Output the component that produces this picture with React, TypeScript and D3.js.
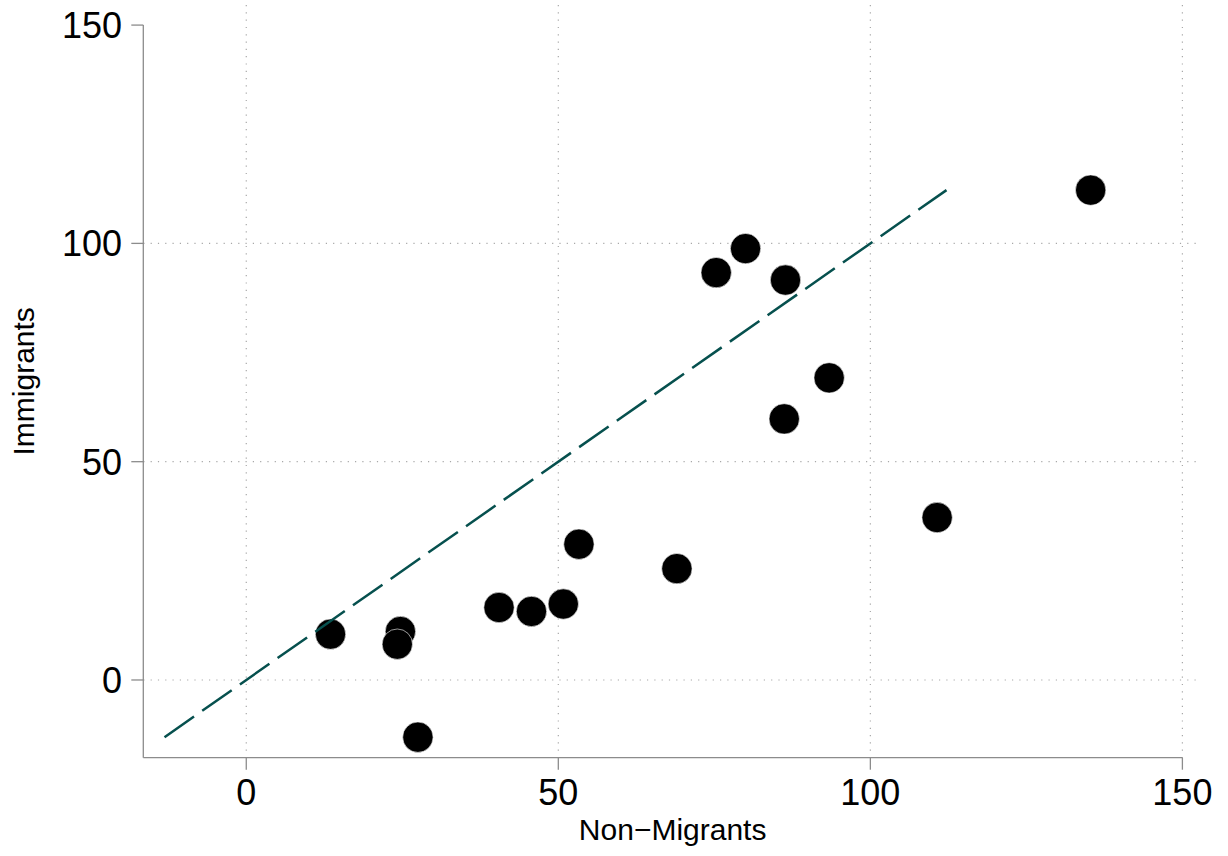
import React from "react";
import * as d3 from "d3";

const nonMigrants = [13.5, 24.7, 24.2, 27.5, 40.5, 45.7, 50.8, 53.3, 69.0, 75.3, 80.0, 86.4, 93.4, 86.2, 110.7, 135.3];
const immigrants = [10.5, 11.1, 8.2, -13.1, 16.6, 15.7, 17.4, 31.1, 25.5, 93.3, 98.8, 91.6, 69.2, 59.8, 37.2, 112.2];
const xTicks = [0, 50, 100, 150];
const yTicks = [0, 50, 100, 150];
const yGrid = [0, 50, 100];
const xTitle = "Non\u2212Migrants";
const yTitle = "Immigrants";

const W = 1228;
const H = 856;
const FONT = "'Liberation Sans', Arial, Helvetica, sans-serif";

export default function App() {
  const x = d3.scaleLinear().domain([-16.5, 152.5]).range([143.3, 1198]);
  const y = d3.scaleLinear().domain([-17.8, 154.6]).range([757.7, 5]);
  const [x0, x1] = x.range();
  const [yb, yt] = y.range();
  const ext = d3.extent(immigrants) as [number, number];
  const linePath = d3.line<number>().x((v) => x(v)).y((v) => y(v))(ext) || "";
  const pts = nonMigrants.map((v, i) => ({ x: v, y: immigrants[i] }));
  const gridStyle = { stroke: "#a8a8a8", strokeWidth: 1.2, strokeDasharray: "1.2 6.1" };
  const axisColor = "#8c8c8c";

  return (
    <svg width={W} height={H} style={{ position: "absolute", left: 0, top: 0, background: "#fff" }} fontFamily={FONT}>
      <rect x={0} y={0} width={W} height={H} fill="#fff" />
      {xTicks.map((t) => (
        <line key={"vg" + t} x1={x(t)} x2={x(t)} y1={yt} y2={yb} {...gridStyle} />
      ))}
      {yGrid.map((t) => (
        <line key={"hg" + t} x1={x0} x2={x1} y1={y(t)} y2={y(t)} {...gridStyle} />
      ))}
      <line x1={x0} x2={x0} y1={y(150)} y2={yb} stroke={axisColor} strokeWidth={1.3} />
      <line x1={x0} x2={x(150)} y1={yb} y2={yb} stroke={axisColor} strokeWidth={1.3} />
      {yTicks.map((t) => (
        <g key={"yt" + t}>
          <line x1={x0 - 12} x2={x0} y1={y(t)} y2={y(t)} stroke={axisColor} strokeWidth={1.3} />
          <text x={122} y={y(t) + 13} textAnchor="end" fontSize={36} fill="#000">{t}</text>
        </g>
      ))}
      {xTicks.map((t) => (
        <g key={"xt" + t}>
          <line x1={x(t)} x2={x(t)} y1={yb} y2={yb + 12} stroke={axisColor} strokeWidth={1.3} />
          <text x={x(t)} y={805} textAnchor="middle" fontSize={36} fill="#000">{t}</text>
        </g>
      ))}
      <text x={(x0 + x1) / 2 + 2} y={840} textAnchor="middle" fontSize={30} fill="#000">{xTitle}</text>
      <text transform={`translate(34, ${(yt + yb) / 2}) rotate(-90)`} textAnchor="middle" fontSize={30} fill="#000">{yTitle}</text>
      {pts.map((p, i) => (
        <circle key={i} cx={x(p.x)} cy={y(p.y)} r={15.2} fill="#000" stroke="#fff" strokeWidth={0.6} />
      ))}
      <path d={linePath} fill="none" stroke="#06504e" strokeWidth={2.5} strokeDasharray="36 10" />
    </svg>
  );
}
